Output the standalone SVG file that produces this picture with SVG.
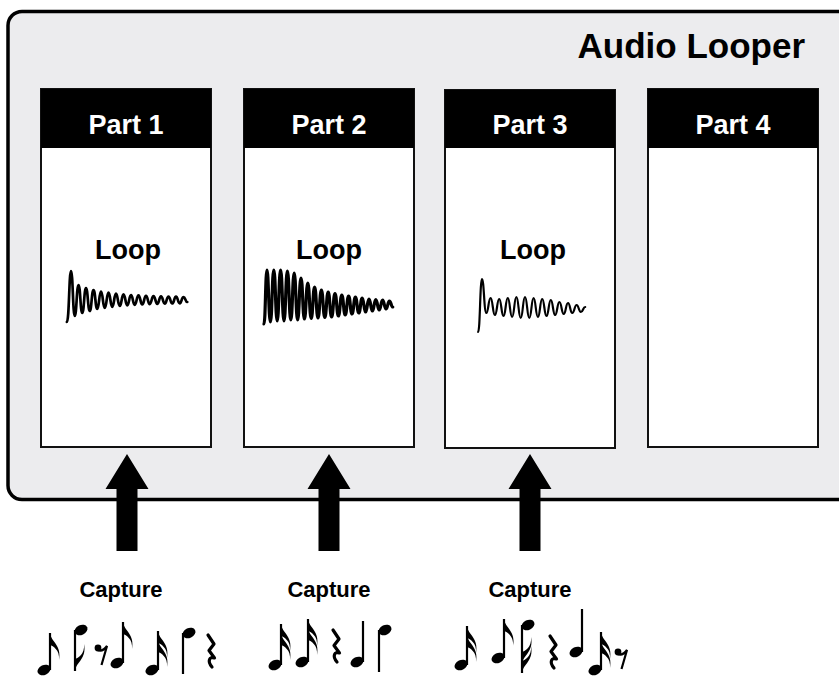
<svg xmlns="http://www.w3.org/2000/svg" xmlns:xlink="http://www.w3.org/1999/xlink" width="839" height="677" viewBox="0 0 839 677">
<style>
text{font-family:"Liberation Sans",Arial,Helvetica,sans-serif;font-weight:bold;}
.title{font-size:35px;fill:#000;text-anchor:end;}
.hdr{font-size:27px;fill:#fff;text-anchor:middle;}
.loop{font-size:27px;fill:#000;text-anchor:middle;}
.cap{font-size:22px;fill:#000;text-anchor:middle;}
.box{fill:#fff;stroke:#111;stroke-width:2;}
.hbar{fill:#000;}
.wave{fill:none;stroke:#000;stroke-linejoin:round;stroke-linecap:round;}
.arrow{fill:#000;}
.st{stroke:#000;stroke-width:2.2;}
.rest{fill:none;stroke:#000;stroke-width:3.2;stroke-linejoin:round;stroke-linecap:round;}
</style>
<defs>
<ellipse id="head" cx="0" cy="0" rx="6.8" ry="4.9" transform="rotate(-25)"/>
<path id="flagU" d="M0,0 C1,9 12,12 9,27 C10,17 3,13 0,12 Z"/>
<path id="flagD" d="M0,0 C1,-9 12,-12 9,-27 C10,-17 3,-13 0,-12 Z"/>
<path id="qrest" class="rest" d="M1,0 L7,9 L2,15.5 L7.5,23 C2.5,21 0,26 5,32"/>
<g id="erest"><circle cx="0" cy="0" r="3.4"/><path d="M0,2 C3,3.5 6.5,1.5 9,-2 L3.5,17" fill="none" stroke="#000" stroke-width="2.2"/></g>
</defs>

<g id="audio-looper">
<rect x="8" y="11.5" width="850" height="488" rx="14" fill="#ececee" stroke="#000" stroke-width="3.5"/>
<text class="title" x="805" y="58">Audio Looper</text>
</g>

<g id="part-1">
<rect class="box" x="41" y="89" width="170" height="358"/>
<rect class="hbar" x="41" y="89" width="170" height="59"/>
<text class="hdr" x="126" y="134">Part 1</text>
<text class="loop" x="128" y="259">Loop</text>
<path class="wave" stroke-width="2.7" vector-effect="non-scaling-stroke" transform="translate(71,0) scale(3.75,1)" d="M-1.1,322 C-0.5,322 -0.5,271 0,271 S0.5,316 1,316 S1.5,285 2,285 S2.5,313 3,313 S3.5,288 4,288 S4.5,311 5,311 S5.5,290 6,290 S6.5,309 7,309 S7.5,291.5 8,291.5 S8.5,308 9,308 S9.5,292.7 10,292.7 S10.5,306.8 11,306.8 S11.5,293.7 12,293.7 S12.5,306 13,306 S13.5,294.4 14,294.4 S14.5,305.3 15,305.3 S15.5,295 16,295 S16.5,304.8 17,304.8 S17.5,295.4 18,295.4 S18.5,304.4 19,304.4 S19.5,295.8 20,295.8 S20.5,304.1 21,304.1 S21.5,296 22,296 S22.5,303.8 23,303.8 S23.5,296.3 24,296.3 S24.5,303.6 25,303.6 S25.5,296.5 26,296.5 S26.5,303.5 27,303.5 S27.5,296.6 28,296.6 S28.5,303.4 29,303.4 S29.5,297 30,297 S30.5,302 31,302"/>
</g>

<g id="part-2">
<rect class="box" x="244" y="89" width="170" height="358"/>
<rect class="hbar" x="244" y="89" width="170" height="59"/>
<text class="hdr" x="329" y="134">Part 2</text>
<text class="loop" x="329" y="259">Loop</text>
<path class="wave" stroke-width="3.2" vector-effect="non-scaling-stroke" transform="translate(267,0) scale(3.4,1)" d="M-0.9,324 C-0.45,324 -0.45,270 0,270 S0.5,322 1,322 S1.5,270 2,270 S2.5,321 3,321 S3.5,270 4,270 S4.5,321 5,321 S5.5,271 6,271 S6.5,320 7,320 S7.5,273 8,273 S8.5,320 9,320 S9.5,278 10,278 S10.5,319 11,319 S11.5,283 12,283 S12.5,318.5 13,318.5 S13.5,287 14,287 S14.5,318 15,318 S15.5,290 16,290 S16.5,317.5 17,317.5 S17.5,292 18,292 S18.5,317 19,317 S19.5,293.5 20,293.5 S20.5,316 21,316 S21.5,295 22,295 S22.5,315 23,315 S23.5,296 24,296 S24.5,314 25,314 S25.5,297 26,297 S26.5,313 27,313 S27.5,298 28,298 S28.5,312 29,312 S29.5,299 30,299 S30.5,311 31,311 S31.5,299.5 32,299.5 S32.5,310 33,310 S33.5,300 34,300 S34.5,309 35,309 S35.5,301 36,301 S36.5,307 37,307"/>
</g>

<g id="part-3">
<rect class="box" x="445" y="90" width="170" height="358"/>
<rect class="hbar" x="445" y="90" width="170" height="58"/>
<text class="hdr" x="530" y="134">Part 3</text>
<text class="loop" x="533" y="259">Loop</text>
<path class="wave" stroke-width="2.2" vector-effect="non-scaling-stroke" transform="translate(482,0) scale(4.3,1)" d="M-0.9,332 C-0.45,332 -0.45,279 0,279 S0.5,313 1,313 S1.5,298 2,298 S2.5,315 3,315 S3.5,299 4,299 S4.5,316 5,316 S5.5,298 6,298 S6.5,317 7,317 S7.5,297 8,297 S8.5,318 9,318 S9.5,297 10,297 S10.5,318 11,318 S11.5,298 12,298 S12.5,317 13,317 S13.5,299 14,299 S14.5,316 15,316 S15.5,300 16,300 S16.5,315 17,315 S17.5,302 18,302 S18.5,314 19,314 S19.5,303 20,303 S20.5,313 21,313 S21.5,305 22,305 S22.5,312 23,312 S23.5,307 24,307"/>
</g>

<g id="part-4">
<rect class="box" x="648" y="89" width="170" height="358"/>
<rect class="hbar" x="648" y="89" width="170" height="59"/>
<text class="hdr" x="733" y="134">Part 4</text>
</g>

<g id="connectors">
<polygon class="arrow" points="127,454 148.5,489 137.5,489 137.5,551 116.5,551 116.5,489 105.5,489"/>
<polygon class="arrow" points="329,454 350.5,489 339.5,489 339.5,551 318.5,551 318.5,489 307.5,489"/>
<polygon class="arrow" points="530,454 551.5,489 540.5,489 540.5,551 519.5,551 519.5,489 508.5,489"/>
</g>

<g id="capture-1">
<text class="cap" x="121" y="597">Capture</text>
<use href="#head" x="44" y="670"/><line class="st" x1="50" y1="670" x2="50" y2="633"/><use href="#flagU" x="50" y="633"/>
<use href="#head" x="81" y="630"/><line class="st" x1="75" y1="630" x2="75" y2="671"/><use href="#flagD" x="75" y="671"/>
<use href="#erest" x="98" y="648"/>
<use href="#head" x="117" y="663"/><line class="st" x1="123" y1="663" x2="123" y2="622"/><use href="#flagU" x="123" y="622"/>
<use href="#head" x="152" y="670"/><line class="st" x1="158" y1="670" x2="158" y2="631"/><use href="#flagU" x="158" y="631"/><use href="#flagU" x="158" y="640"/>
<use href="#head" x="189" y="633"/><line class="st" x1="183" y1="633" x2="183" y2="674"/>
<use href="#qrest" x="207" y="635"/>
</g>

<g id="capture-2">
<text class="cap" x="329" y="597">Capture</text>
<use href="#head" x="275" y="665"/><line class="st" x1="281" y1="665" x2="281" y2="624"/><use href="#flagU" x="281" y="624"/><use href="#flagU" x="281" y="633"/>
<use href="#head" x="302" y="662"/><line class="st" x1="308" y1="662" x2="308" y2="619"/><use href="#flagU" x="308" y="619"/><use href="#flagU" x="308" y="628"/>
<use href="#qrest" x="332" y="630"/>
<use href="#head" x="357" y="662"/><line class="st" x1="363" y1="662" x2="363" y2="621"/>
<use href="#head" x="385" y="630"/><line class="st" x1="379" y1="630" x2="379" y2="672"/>
</g>

<g id="capture-3">
<text class="cap" x="530" y="597">Capture</text>
<use href="#head" x="461" y="665"/><line class="st" x1="467" y1="665" x2="467" y2="626"/><use href="#flagU" x="467" y="626"/><use href="#flagU" x="467" y="635"/>
<use href="#head" x="498" y="658"/><line class="st" x1="504" y1="658" x2="504" y2="619"/><use href="#flagU" x="504" y="619"/>
<use href="#head" x="528" y="625"/><line class="st" x1="522" y1="625" x2="522" y2="673"/><use href="#flagD" x="522" y="673"/><use href="#flagD" x="522" y="664"/>
<use href="#qrest" x="549" y="636"/>
<use href="#head" x="576" y="652"/><line class="st" x1="582" y1="652" x2="582" y2="609"/>
<use href="#head" x="595" y="670"/><line class="st" x1="601" y1="670" x2="601" y2="632"/><use href="#flagU" x="601" y="632"/><use href="#flagU" x="601" y="641"/>
<use href="#erest" x="618" y="652"/>
</g>
</svg>
